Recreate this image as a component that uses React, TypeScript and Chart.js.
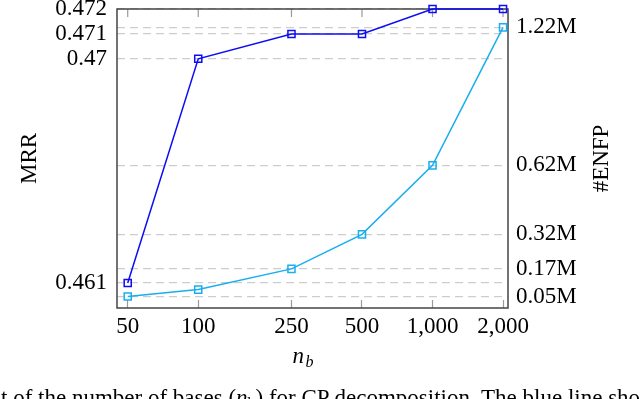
import React, { useEffect, useRef } from "react";
import { Chart, registerables } from "chart.js";

Chart.register(...registerables);

// ---- data ----
const nb = [50, 100, 250, 500, 1000, 2000];
const nbLabels = ["50", "100", "250", "500", "1,000", "2,000"];
const mrr = [0.461, 0.47, 0.471, 0.471, 0.472, 0.472];
const enfp = [0.05, 0.08, 0.17, 0.32, 0.62, 1.22]; // millions
const mrrTicks = [0.461, 0.47, 0.471, 0.472];
const mrrTickLabels = ["0.461", "0.47", "0.471", "0.472"];
const enfpTicks = [0.05, 0.17, 0.32, 0.62, 1.22];
const enfpTickLabels = ["0.05M", "0.17M", "0.32M", "0.62M", "1.22M"];

const FONT = "'Liberation Serif', 'DejaVu Serif', serif";
const BLUE = "#0c0cf5";
const CYAN = "#18aef0";
const GRID = "#cdcdcd";

const decorPlugin = {
  id: "decor",
  beforeDatasetsDraw(chart: any) {
    const { ctx, chartArea } = chart;
    const { left, right, top, bottom } = chartArea;
    const xs = chart.scales.x;
    ctx.save();
    // top inward ticks
    ctx.strokeStyle = "#9a9a9a";
    ctx.lineWidth = 1.2;
    ctx.beginPath();
    nb.forEach((v) => {
      const px = xs.getPixelForValue(v);
      ctx.moveTo(px, top);
      ctx.lineTo(px, top + 8);
    });
    ctx.stroke();
    // frame
    ctx.strokeStyle = "#444444";
    ctx.lineWidth = 1.5;
    ctx.strokeRect(left, top, right - left, bottom - top);
    ctx.restore();
  },
  afterDraw(chart: any) {
    const { ctx, chartArea } = chart;
    const { left, right, top, bottom } = chartArea;
    ctx.save();
    ctx.fillStyle = "#000";
    // x axis title n_b
    const cx = (left + right) / 2;
    ctx.textBaseline = "alphabetic";
    ctx.textAlign = "left";
    ctx.font = `italic 23px ${FONT}`;
    ctx.fillText("n", cx - 20, bottom + 55);
    ctx.font = `italic 16px ${FONT}`;
    ctx.fillText("b", cx - 7, bottom + 59);
    // right axis title
    ctx.translate(chart.width - 38, (top + bottom) / 2);
    ctx.rotate(-Math.PI / 2);
    ctx.textAlign = "center";
    ctx.textBaseline = "middle";
    ctx.font = `23px ${FONT}`;
    ctx.fillText("#ENFP", 0, 0);
    ctx.restore();
  },
};

const noPad = (s: any) => {
  s.paddingTop = 0;
  s.paddingBottom = 0;
  s.paddingLeft = 0;
  s.paddingRight = 0;
};

export default function App() {
  const ref = useRef<HTMLCanvasElement>(null);

  useEffect(() => {
    if (!ref.current) return;
    const tickFont = { family: FONT, size: 23 };
    const chart = new Chart(ref.current, {
      type: "line",
      data: {
        datasets: [
          {
            label: "MRR",
            data: nb.map((x, i) => ({ x, y: mrr[i] })),
            yAxisID: "y",
            borderColor: BLUE,
            backgroundColor: BLUE,
            borderWidth: 1.5,
            pointStyle: "rect",
            pointRadius: 5,
            pointBorderWidth: 1.5,
            pointBorderColor: BLUE,
            pointBackgroundColor: "rgba(0,0,0,0)",
            tension: 0,
            clip: false,
          },
          {
            label: "#ENFP",
            data: nb.map((x, i) => ({ x, y: enfp[i] })),
            yAxisID: "y1",
            borderColor: CYAN,
            backgroundColor: CYAN,
            borderWidth: 1.5,
            pointStyle: "rect",
            pointRadius: 5,
            pointBorderWidth: 1.5,
            pointBorderColor: CYAN,
            pointBackgroundColor: "rgba(0,0,0,0)",
            tension: 0,
            clip: false,
          },
        ],
      },
      options: {
        animation: false,
        responsive: false,
        layout: { padding: { top: 9, left: 0, right: 0, bottom: 0 } },
        plugins: { legend: { display: false }, tooltip: { enabled: false } },
        scales: {
          x: {
            type: "logarithmic",
            position: "bottom",
            min: 45,
            max: 2100,
            afterFit: (s: any) => {
              s.height = 91;
              noPad(s);
            },
            afterBuildTicks: (s: any) => {
              s.ticks = nb.map((v) => ({ value: v }));
            },
            ticks: {
              callback: (_v: any, i: number) => nbLabels[i],
              font: tickFont,
              color: "#000",
              padding: 13,
              maxRotation: 0,
              autoSkip: false,
            },
            grid: {
              drawOnChartArea: false,
              drawTicks: true,
              tickLength: -8,
              tickColor: "#9a9a9a",
              tickWidth: 1.2,
            },
            border: { display: false },
          },
          y: {
            type: "linear",
            position: "left",
            min: 0.46,
            max: 0.472,
            afterFit: (s: any) => {
              s.width = 117;
              noPad(s);
            },
            afterBuildTicks: (s: any) => {
              s.ticks = mrrTicks.map((v) => ({ value: v }));
            },
            ticks: {
              callback: (_v: any, i: number) => mrrTickLabels[i],
              font: tickFont,
              color: "#000",
              padding: 10,
            },
            grid: { color: GRID, lineWidth: 1.2, drawTicks: false },
            border: { display: false, dash: [8, 5] },
            title: {
              display: true,
              text: "MRR",
              font: { family: FONT, size: 23 },
              color: "#000",
              padding: { top: 16, bottom: 0 },
            },
          },
          y1: {
            type: "linear",
            position: "right",
            min: 0,
            max: 1.3,
            afterFit: (s: any) => {
              s.width = 132;
              noPad(s);
            },
            afterBuildTicks: (s: any) => {
              s.ticks = enfpTicks.map((v) => ({ value: v }));
            },
            ticks: {
              callback: (_v: any, i: number) => enfpTickLabels[i],
              font: tickFont,
              color: "#000",
              padding: 8,
            },
            grid: { color: GRID, lineWidth: 1.2, drawTicks: false },
            border: { display: false, dash: [8, 5] },
          },
        },
      } as any,
      plugins: [decorPlugin],
    });
    return () => chart.destroy();
  }, []);

  return (
    <div
      style={{
        position: "fixed",
        left: 0,
        top: 0,
        width: 640,
        height: 399,
        overflow: "hidden",
        background: "#fff",
      }}
    >
      <canvas ref={ref} width={640} height={399} style={{ display: "block" }} />
      <div
        style={{
          position: "absolute",
          left: 1,
          top: 386,
          whiteSpace: "nowrap",
          fontFamily: FONT,
          fontSize: 23,
          lineHeight: 1,
          color: "#000",
        }}
      >
        t of the number of bases (<i>n</i>
        <sub style={{ fontSize: 16, verticalAlign: "-4px" }}>b</sub>) for CP
        decomposition. The blue line shows
      </div>
    </div>
  );
}
